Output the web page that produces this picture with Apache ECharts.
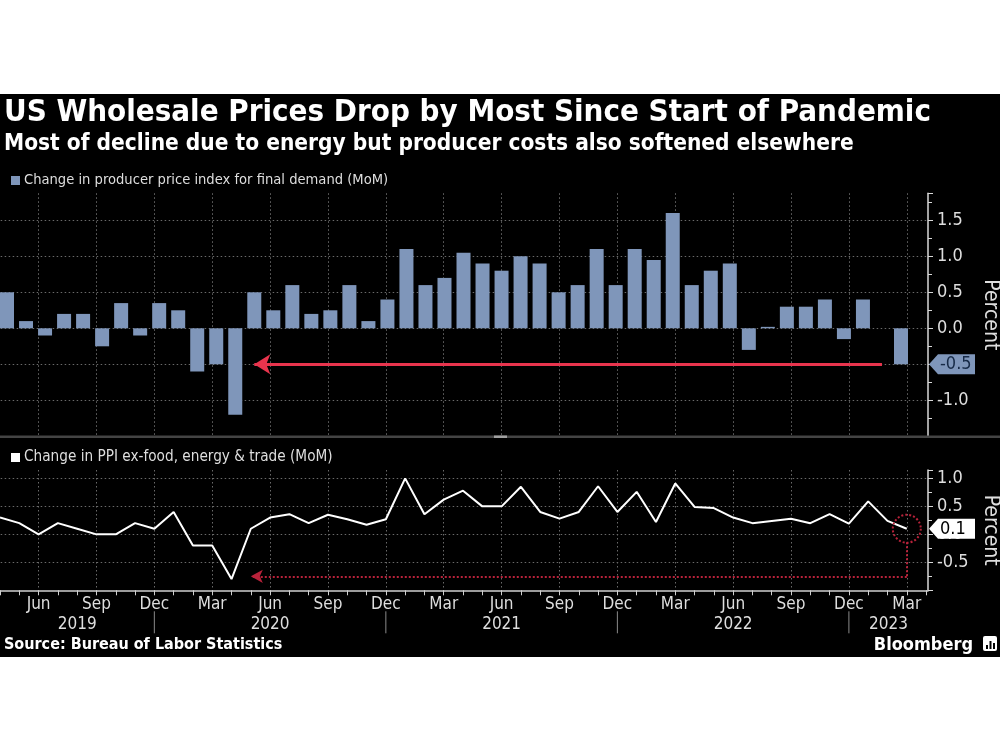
<!DOCTYPE html>
<html>
<head>
<meta charset="utf-8">
<script src="https://cdn.jsdelivr.net/npm/echarts@6/dist/echarts.min.js"></script>
<style>
html,body{margin:0;padding:0;background:#fff;}
#c{width:1000px;height:750px;background:linear-gradient(to bottom,#fff 0px,#fff 94px,#000 94px,#000 657px,#fff 657px,#fff 750px);}
</style>
</head>
<body>
<div id="c"></div>
<script>
// ---------------- DATA ----------------
const months = [
  'Apr 2019','May 2019','Jun 2019','Jul 2019','Aug 2019','Sep 2019','Oct 2019','Nov 2019','Dec 2019',
  'Jan 2020','Feb 2020','Mar 2020','Apr 2020','May 2020','Jun 2020','Jul 2020','Aug 2020','Sep 2020','Oct 2020','Nov 2020','Dec 2020',
  'Jan 2021','Feb 2021','Mar 2021','Apr 2021','May 2021','Jun 2021','Jul 2021','Aug 2021','Sep 2021','Oct 2021','Nov 2021','Dec 2021',
  'Jan 2022','Feb 2022','Mar 2022','Apr 2022','May 2022','Jun 2022','Jul 2022','Aug 2022','Sep 2022','Oct 2022','Nov 2022','Dec 2022',
  'Jan 2023','Feb 2023','Mar 2023'
];
const ppiFinalDemand = [
  0.5, 0.1, -0.1, 0.2, 0.2, -0.25, 0.35, -0.1, 0.35,
  0.25, -0.6, -0.5, -1.2, 0.5, 0.25, 0.6, 0.2, 0.25, 0.6, 0.1, 0.4,
  1.1, 0.6, 0.7, 1.05, 0.9, 0.8, 1.0, 0.9, 0.5, 0.6, 1.1, 0.6,
  1.1, 0.95, 1.6, 0.6, 0.8, 0.9, -0.3, 0.02, 0.3, 0.3, 0.4, -0.15,
  0.4, 0.0, -0.5
];
const ppiCore = [
  0.3, 0.2, 0.0, 0.2, 0.1, 0.0, 0.0, 0.2, 0.1,
  0.4, -0.2, -0.2, -0.8, 0.1, 0.3, 0.36, 0.2, 0.35, 0.27, 0.17, 0.27,
  1.0, 0.36, 0.62, 0.78, 0.5, 0.5, 0.85, 0.4, 0.28, 0.4, 0.86, 0.4,
  0.76, 0.22, 0.91, 0.49, 0.47, 0.3, 0.2, 0.24, 0.28, 0.2, 0.36, 0.19,
  0.59, 0.24, 0.1
];
const yearLabels = ['2019','2020','2021','2022','2023'];
const titleText = 'US Wholesale Prices Drop by Most Since Start of Pandemic';
const subtitleText = 'Most of decline due to energy but producer costs also softened elsewhere';
const barName = 'Change in producer price index for final demand (MoM)';
const lineName = 'Change in PPI ex-food, energy & trade (MoM)';
const sourceText = 'Source: Bureau of Labor Statistics';
const arrowFromMonth = 'May 2020';
const arrowLevelTop = -0.5;
const arrowLevelBottom = -0.75;

// ---------------- STYLE ----------------
const FONT = '"DejaVu Sans Condensed", "Liberation Sans Narrow", "DejaVu Sans", sans-serif';
const BAR_COLOR = '#7f96ba';
const TXT = '#dedede';
const GRID_LINE = {show:true, lineStyle:{color:'#6a6a6a', width:1, type:[1.5,2.5]}};
const X_MAX = 49.1;

const lineData = ppiCore.map((v, i) => [i + 1, v]);
const lastIdx = months.length - 1;
const arrowIdx = months.indexOf(arrowFromMonth);

const chart = echarts.init(document.getElementById('c'), null, {renderer:'canvas'});

function monthLabel(v) {
  if (Math.abs(v - Math.round(v)) > 1e-6) return '';
  const m = Math.round(v);
  if (m < 1 || m > months.length || m % 3 !== 0) return '';
  return months[m - 1].split(' ')[0];
}

const option = {
  backgroundColor: 'transparent',
  animation: false,
  textStyle: {fontFamily: FONT},
  grid: [
    {left: -19.3, right: 72, top: 193.3, bottom: 313.7, outerBoundsMode: 'none', containLabel: false},
    {left: -2.5, right: 89.5, top: 193.3, bottom: 313.7, outerBoundsMode: 'none', containLabel: false},
    {left: -19.3, right: 72, top: 470, bottom: 159.7, outerBoundsMode: 'none', containLabel: false}
  ],
  legend: [
    {data: [barName], left: 6, top: 168, icon: 'rect', itemWidth: 9, itemHeight: 9, itemGap: 5,
     selectedMode: false, textStyle: {color: TXT, fontSize: 14.6, fontFamily: FONT, padding:[0,0,0,-1]}},
    {data: [lineName], left: 6, top: 445, icon: 'rect', itemWidth: 9, itemHeight: 9, itemGap: 5,
     selectedMode: false, textStyle: {color: TXT, fontSize: 15.2, fontFamily: FONT, padding:[0,0,0,-1]},
     itemStyle: {color: '#ffffff'}}
  ],
  xAxis: [
    {gridIndex: 0, type: 'value', min: 0, max: X_MAX, interval: 3, position: 'bottom',
     axisLine: {show: false}, axisTick: {show: false}, axisLabel: {show: false},
     splitLine: Object.assign({showMinLine: false, showMaxLine: false}, GRID_LINE)},
    {gridIndex: 1, type: 'category', data: months, boundaryGap: true, show: false},
    {gridIndex: 2, type: 'value', min: 0, max: X_MAX, interval: 1, position: 'bottom',
     axisLine: {show: true, onZero: false, lineStyle: {color: '#d0d0d0', width: 1.5}},
     axisTick: {show: true, length: 5, lineStyle: {color: '#d0d0d0', width: 1}},
     axisLabel: {show: true, formatter: monthLabel, color: TXT, fontSize: 17, fontFamily: FONT, margin: 6,
                 showMinLabel: true, showMaxLabel: false},
     splitLine: {show: false}},
    {gridIndex: 2, type: 'value', min: 0, max: X_MAX, interval: 3, position: 'top',
     axisLine: {show: false}, axisTick: {show: false}, axisLabel: {show: false},
     splitLine: Object.assign({showMinLine: false, showMaxLine: false}, GRID_LINE)}
  ],
  yAxis: [
    {gridIndex: 0, type: 'value', position: 'right', min: -1.5, max: 1.875, interval: 0.5,
     axisLine: {show: true, onZero: false, lineStyle: {color: '#d8d8d8', width: 1.5}},
     axisTick: {show: true, length: 5, lineStyle: {color: '#d8d8d8'}},
     minorTick: {show: true, splitNumber: 2, length: 4, lineStyle: {color: '#d8d8d8'}},
     axisLabel: {color: TXT, fontSize: 18, fontFamily: FONT, margin: 9, showMinLabel: false, showMaxLabel: false,
                 formatter: v => v.toFixed(1)},
     splitLine: Object.assign({showMinLine: false, showMaxLine: false}, GRID_LINE),
     name: 'Percent', nameLocation: 'middle', nameRotate: -90, nameGap: 44,
     nameTextStyle: {color: TXT, fontSize: 21, fontFamily: FONT}},
    {gridIndex: 1, type: 'value', min: -1.5, max: 1.875, show: false, splitLine: {show: false}},
    {gridIndex: 2, type: 'value', position: 'right', min: -1, max: 1.15, interval: 0.5,
     axisLine: {show: true, onZero: false, lineStyle: {color: '#d8d8d8', width: 1.5}},
     axisTick: {show: true, length: 5, lineStyle: {color: '#d8d8d8'}},
     minorTick: {show: true, splitNumber: 2, length: 4, lineStyle: {color: '#d8d8d8'}},
     axisLabel: {color: TXT, fontSize: 18, fontFamily: FONT, margin: 9, showMinLabel: false, showMaxLabel: false,
                 formatter: v => v.toFixed(1)},
     splitLine: Object.assign({showMinLine: false, showMaxLine: false}, GRID_LINE),
     name: 'Percent', nameLocation: 'middle', nameRotate: -90, nameGap: 44,
     nameTextStyle: {color: TXT, fontSize: 21, fontFamily: FONT}}
  ],
  series: [
    {name: barName, type: 'bar', xAxisIndex: 1, yAxisIndex: 1, data: ppiFinalDemand, barWidth: 14,
     itemStyle: {color: BAR_COLOR}, emphasis: {disabled: true}, z: 3,
     markLine: {silent: true, symbol: ['none', 'arrow'], symbolSize: [15, 16], label: {show: false},
       lineStyle: {color: '#e8344d', width: 3, type: 'solid'}, emphasis: {disabled: true},
       data: [[{coord: [months[lastIdx - 1], arrowLevelTop]}, {coord: [months[arrowIdx], arrowLevelTop]}]]}},
    {name: lineName, type: 'line', xAxisIndex: 2, yAxisIndex: 2, data: lineData, showSymbol: false,
     lineStyle: {color: '#ffffff', width: 2}, itemStyle: {color: '#ffffff'}, emphasis: {disabled: true}, z: 3,
     markLine: {silent: true, symbol: ['none', 'arrow'], symbolSize: [10, 12], label: {show: false},
       lineStyle: {color: '#b8223a', width: 2, type: [2, 2]}, emphasis: {disabled: true},
       data: [
         [{coord: [lastIdx + 1, arrowLevelBottom]}, {coord: [arrowIdx + 1, arrowLevelBottom]}],
         [{coord: [lastIdx + 1, arrowLevelBottom], symbol: 'none'}, {coord: [lastIdx + 1, ppiCore[lastIdx] - 0.23], symbol: 'none'}]
       ]},
     markPoint: {silent: true, symbol: 'circle', symbolSize: 28, label: {show: false},
       itemStyle: {color: 'rgba(0,0,0,0)', borderColor: '#b8223a', borderWidth: 2, borderType: [2, 2]},
       data: [{coord: [lastIdx + 1, ppiCore[lastIdx]]}]}}
  ]
};
chart.setOption(option);

// ---------------- annotations positioned through the axes ----------------
const px = m => chart.convertToPixel({xAxisIndex: 2}, m);
const pyTop = v => chart.convertToPixel({yAxisIndex: 0}, v);
const pyBot = v => chart.convertToPixel({yAxisIndex: 2}, v);
const axisX = px(X_MAX);
const bottomAxisY = pyBot(-1);

const graphics = [];
// title texts
graphics.push({type: 'text', x: 4, y: 113, z: 10, style: {text: titleText, fill: '#ffffff',
  font: 'bold 31px ' + FONT, verticalAlign: 'middle'}});
graphics.push({type: 'text', x: 4, y: 144, z: 10, style: {text: subtitleText, fill: '#ffffff',
  font: 'bold 22.5px ' + FONT, verticalAlign: 'middle'}});
graphics.push({type: 'text', x: 4, y: 645, z: 10, style: {text: sourceText, fill: '#ffffff',
  font: 'bold 16px ' + FONT, verticalAlign: 'middle'}});
graphics.push({type: 'text', x: 973, y: 645, z: 10, style: {text: 'Bloomberg', fill: '#ffffff',
  font: 'bold 18px ' + FONT, align: 'right', verticalAlign: 'middle'}});
// bloomberg icon
graphics.push({type: 'rect', z: 10, shape: {x: 983, y: 636, width: 14, height: 15, r: 2}, style: {fill: '#ffffff'}});
[[986, 645, 2, 4], [989.5, 641, 2, 8], [993, 643, 2, 6]].forEach(b => {
  graphics.push({type: 'rect', z: 11, shape: {x: b[0], y: b[1], width: b[2], height: b[3]}, style: {fill: '#000'}});
});
// panel separator
graphics.push({type: 'rect', z: 1, shape: {x: 0, y: 435.5, width: 1000, height: 2.5}, style: {fill: '#444444'}});
graphics.push({type: 'rect', z: 2, shape: {x: 494, y: 435.5, width: 13, height: 2.5}, style: {fill: '#a0a0a0'}});

// year labels + separators
yearLabels.forEach((yr, k) => {
  const idx = months.map((m, i) => m.endsWith(yr) ? i : -1).filter(i => i >= 0);
  const f = idx[0], l = idx[idx.length - 1];
  const leftM = f === 0 ? 1 : f;
  const rightM = k === yearLabels.length - 1 ? X_MAX : l + 1;
  const cx = (px(leftM) + px(rightM)) / 2;
  graphics.push({type: 'text', x: cx, y: bottomAxisY + 34, z: 10, style: {text: yr, fill: TXT,
    font: '17px ' + FONT, align: 'center', verticalAlign: 'middle'}});
  if (k < yearLabels.length - 1) {
    const sx = px(l + 1);
    graphics.push({type: 'line', z: 10, shape: {x1: sx, y1: bottomAxisY + 21, x2: sx, y2: bottomAxisY + 43},
      style: {stroke: '#8a8a8a', lineWidth: 1}});
  }
});

// value badges on the right axes
function badge(y, fill, textFill, text) {
  const x0 = axisX + 1;
  graphics.push({type: 'polygon', z: 20, shape: {points: [[x0, y], [x0 + 9, y - 10], [x0 + 46, y - 10], [x0 + 46, y + 10], [x0 + 9, y + 10]]},
    style: {fill: fill}});
  graphics.push({type: 'text', z: 21, x: x0 + 11, y: y + 0.5, style: {text: text, fill: textFill,
    font: '18px ' + FONT, verticalAlign: 'middle'}});
}
badge(pyTop(ppiFinalDemand[lastIdx]), BAR_COLOR, '#172a47', ppiFinalDemand[lastIdx].toFixed(1));
badge(pyBot(ppiCore[lastIdx]), '#ffffff', '#000000', ppiCore[lastIdx].toFixed(1));

chart.setOption({graphic: graphics});
</script>
</body>
</html>
